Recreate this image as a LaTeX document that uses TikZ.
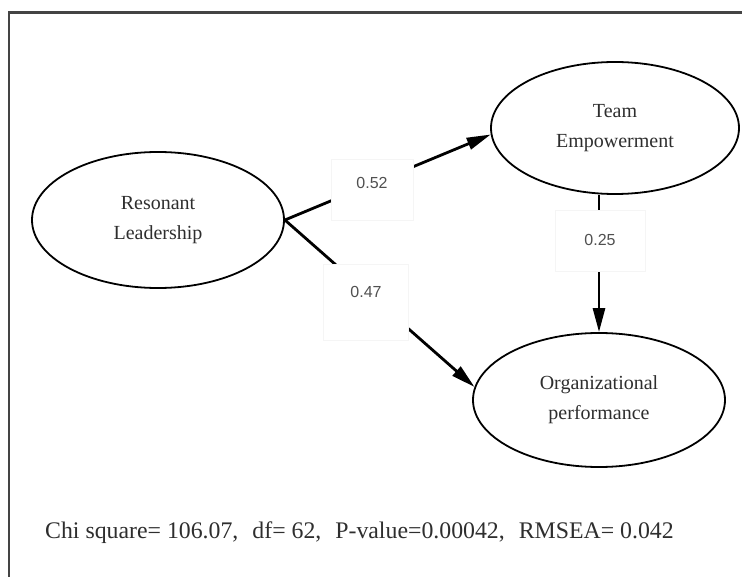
\documentclass[tikz,border=0pt]{standalone}
\usepackage{fontspec}
\setmainfont{Liberation Serif}
\newfontfamily\labfont{Liberation Sans}
\usetikzlibrary{arrows.meta,shapes.geometric}
\definecolor{framecol}{HTML}{444444}
\definecolor{txtcol}{HTML}{2E2E2E}
\definecolor{labcol}{HTML}{505050}
\tikzset{
  latent/.style={ellipse, draw=black, line width=1.8pt, align=center,
    text=txtcol, font=\fontsize{20}{30}\selectfont, inner sep=0pt},
  conn/.style={line width=2.8pt, -{Triangle[length=24pt,width=12pt]}},
  coef/.style={fill=white, draw=black!4, line width=0.4pt, inner sep=0pt,
    anchor=base, text=labcol, font=\labfont\fontsize{16}{16}\selectfont}
}
\begin{document}
\begin{tikzpicture}[x=1pt,y=-1pt]
\useasboundingbox (0,0) rectangle (742,577);
\draw[framecol, line width=2.8pt] (9,590) -- (9,12.5) -- (760,12.5);

\node[latent, minimum width=252pt, minimum height=136pt] (RL) at (158,220) {Resonant\\Leadership};
\node[latent, minimum width=248pt, minimum height=132pt] (TE) at (615,128) {Team\\Empowerment};
\node[latent, minimum width=252pt, minimum height=134pt] (OP) at (599,400) {Organizational\\performance};

\draw[conn] (RL.east) -- (TE.183);
\draw[conn] (RL.east) -- (OP.174);
\draw[conn] (OP.north |- TE.south) -- (OP.north);

\node[coef, minimum width=82pt, text height=30pt, text depth=31pt] (c1) at (372,189) {0.52};
\node[coef, minimum width=85pt, text height=34pt, text depth=42pt] (c2) at (366,298) {0.47};
\node[coef, minimum width=90pt, text height=36pt, text depth=25pt] (c3) at (600,246) {0.25};

\node[anchor=base west, inner sep=0pt, text=txtcol, font=\fontsize{23.8}{23.8}\selectfont] (fit) at (45,538)
  {Chi square= 106.07,\hspace{14pt}df= 62,\hspace{14pt}P-value=0.00042,\hspace{14pt}RMSEA= 0.042};
\end{tikzpicture}
\end{document}
